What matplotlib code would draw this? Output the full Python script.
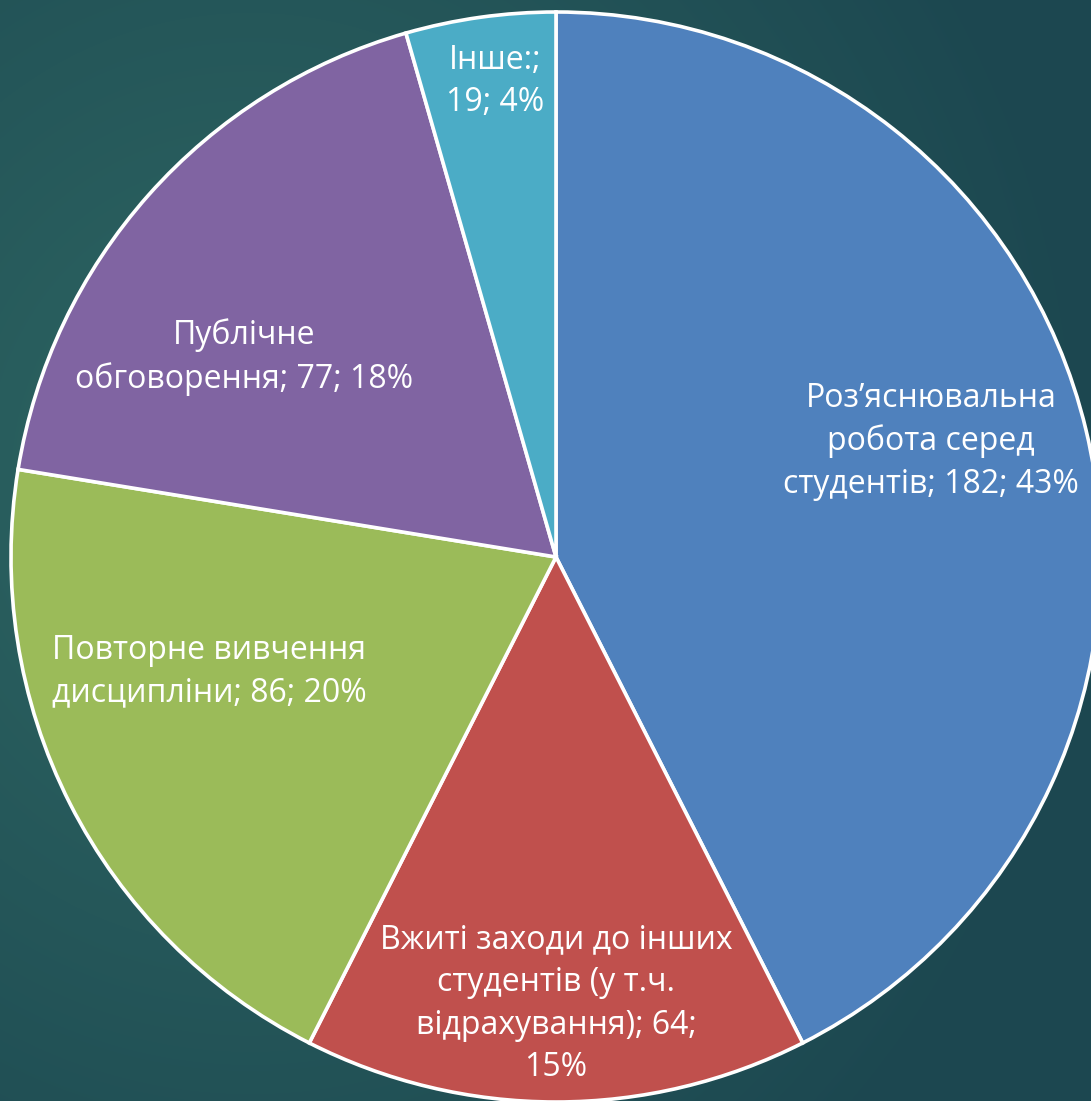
import numpy as np
import matplotlib
matplotlib.use("Agg")
import matplotlib.pyplot as plt

# data
names = ["Роз’яснювальна\nробота серед\nстудентів", "Вжиті заходи до інших\nстудентів (у т.ч.\nвідрахування)",
         "Повторне вивчення\nдисципліни", "Публічне\nобговорення", "Інше:"]
counts = [182, 64, 86, 77, 19]
percents = [43, 15, 20, 18, 4]
colors = ["#4F81BD", "#C0504D", "#9BBB59", "#8064A2", "#4BACC6"]

# separators name|count and count|percent, as the labels wrap in the original
seps = [("; ", "; "), ("; ", ";\n"), ("; ", "; "), ("; ", "; "), (";\n", "; ")]
label_texts = [f"{n}{s1}{c}{s2}{p}%" for n, c, p, (s1, s2) in zip(names, counts, percents, seps)]

# where each label sits inside its slice (fraction of radius, angle shift in degrees)
label_dist = [0.72, 0.82, 0.67, 0.68, 0.88]
label_shift = [3.7, 0.0, -8.6, 9.0, -0.7]

W, H = 1091, 1101
cx, cy, R = 556, 557, 545

fig = plt.figure(figsize=(W / 100, H / 100), dpi=100)

# teal gradient background
bg = fig.add_axes([0, 0, 1, 1])
yy, xx = np.mgrid[0:H, 0:W]
d = np.sqrt(((xx - 250) / 1000.0) ** 2 + ((yy - 480) / 1100.0) ** 2)
t = np.clip(d / 0.85, 0, 1)[..., None]
light = np.array([0x2e, 0x67, 0x63]) / 255.0
dark = np.array([0x1c, 0x47, 0x50]) / 255.0
bg.imshow(light * (1 - t) + dark * t, aspect="auto", extent=[0, 1, 0, 1])
bg.axis("off")

ax = fig.add_axes([0, 0, 1, 1])
ax.patch.set_alpha(0)
wedges, _ = ax.pie(counts, colors=colors, startangle=90, counterclock=False, radius=1,
                   wedgeprops=dict(edgecolor="white", linewidth=2.6))
ax.set_xlim(-cx / R, (W - cx) / R)
ax.set_ylim(-(H - cy) / R, cy / R)
ax.set_aspect("auto")
ax.axis("off")

for w, txt, dist, shift in zip(wedges, label_texts, label_dist, label_shift):
    ang = np.deg2rad((w.theta1 + w.theta2) / 2 + shift)
    ax.text(dist * np.cos(ang), dist * np.sin(ang), txt, ha="center", va="center",
            color="white", fontsize=23, family=["Open Sans", "DejaVu Sans"], linespacing=1.38)

fig.savefig("out.png", dpi=100)
